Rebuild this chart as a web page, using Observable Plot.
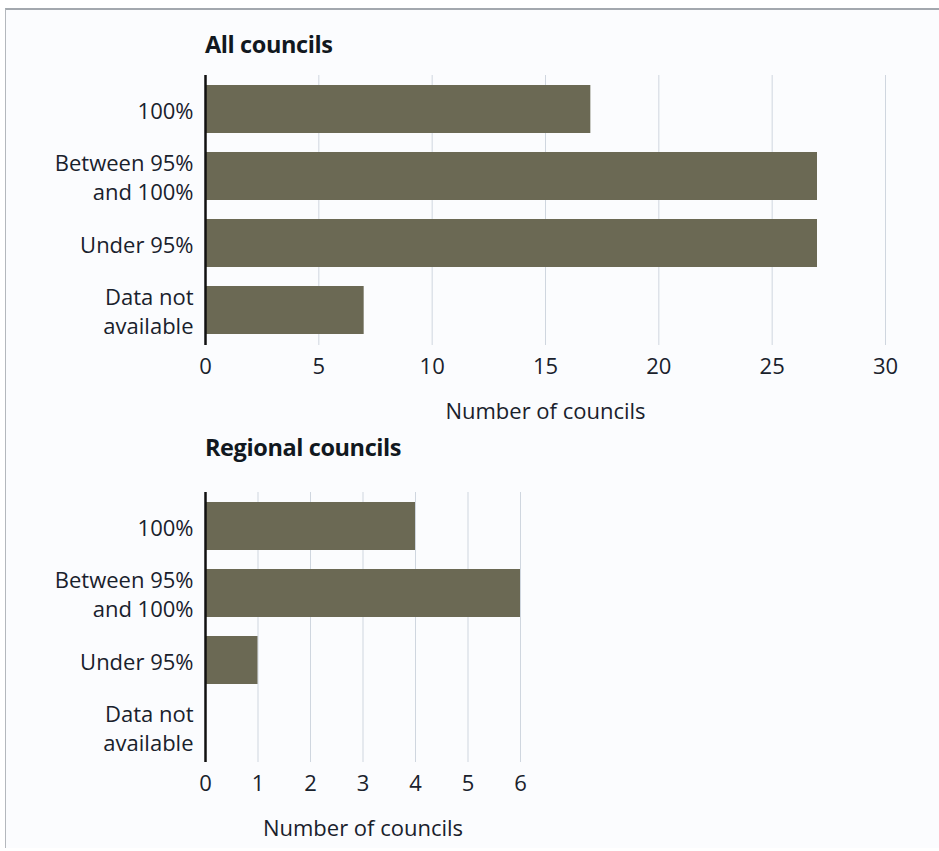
<!DOCTYPE html>
<html>
<head>
<meta charset="utf-8">
<script src="https://cdn.jsdelivr.net/npm/d3@7"></script>
<script src="https://cdn.jsdelivr.net/npm/@observablehq/plot@0.6"></script>
<style>
  html, body { margin: 0; padding: 0; background: #ffffff; }
  #wrap { position: relative; width: 939px; height: 851px; overflow: hidden; background: #ffffff; font-family: "Open Sans", sans-serif; }
  #panel { position: absolute; left: 5px; top: 8px; right: 0; bottom: 3px; background: #fbfcfe; border-top: 2px solid #a3a8ae; border-left: 1px solid #b4b8bd; }
  .title { position: absolute; left: 205px; font-family: "Open Sans", sans-serif; font-weight: 700; font-size: 23.5px; color: #111820; letter-spacing: -0.4px; }
  .chart { position: absolute; left: 0; }
</style>
</head>
<body>
<div id="wrap">
  <div id="panel"></div>
  <div class="title" style="top:28px">All councils</div>
  <div class="title" style="top:431px">Regional councils</div>
  <div class="chart" id="c1" style="top:60px"></div>
  <div class="chart" id="c2" style="top:477px"></div>
</div>
<script>
const categories = ["100%", "Between 95%\nand 100%", "Under 95%", "Data not\navailable"];
const allCouncils = [17, 27, 27, 7];
const regionalCouncils = [4, 6, 1, 0];
const allTicks = [0, 5, 10, 15, 20, 25, 30];
const regionalTicks = [0, 1, 2, 3, 4, 5, 6];
const xLabel = "Number of councils";

function makeChart(values, ticks, xmax, marginRight) {
  const data = categories.map((c, i) => ({category: c, value: values[i]}));
  return Plot.plot({
    width: 939,
    height: 365,
    marginTop: 15,
    marginBottom: 80,
    marginLeft: 205,
    marginRight: marginRight,
    style: {fontFamily: "Open Sans, sans-serif", fontSize: "22px", color: "#19212c", background: "transparent", overflow: "visible"},
    x: {domain: [0, xmax], ticks: ticks},
    y: {domain: categories, paddingInner: 0.28, paddingOuter: 0.13},
    marks: [
      Plot.gridX(ticks, {stroke: "#cfd6df", strokeOpacity: 1, strokeWidth: 1}),
      Plot.barX(data, {x: "value", y: "category", fill: "#6b6954"}),
      Plot.ruleX([0], {stroke: "#111111", strokeWidth: 2.5}),
      Plot.axisX(ticks, {tickSize: 0, tickPadding: 13, fontSize: 22, label: xLabel, labelArrow: "none", labelAnchor: "center", labelOffset: 73}),
      Plot.axisY({tickSize: 0, tickPadding: 12, fontSize: 22, label: null, lineHeight: 1.28})
    ]
  });
}

document.getElementById("c1").appendChild(makeChart(allCouncils, allTicks, 30, 54));
document.getElementById("c2").appendChild(makeChart(regionalCouncils, regionalTicks, 6, 419));
</script>
</body>
</html>
